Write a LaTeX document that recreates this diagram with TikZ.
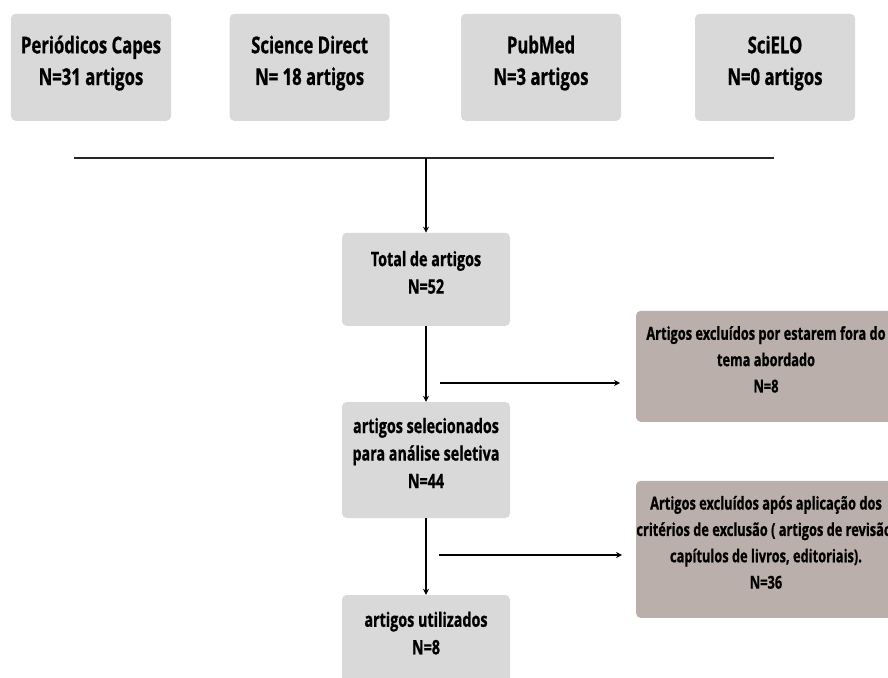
\documentclass[tikz,border=0pt]{standalone}
\usepackage{fontspec}
\newfontfamily\flowfont{Open Sans}[FakeStretch=0.72, BoldFeatures={FakeBold=0.8}]
\usetikzlibrary{positioning,arrows.meta}
\definecolor{boxgray}{RGB}{217,217,217}
\definecolor{exclbrown}{RGB}{186,175,171}

\begin{document}
\begin{tikzpicture}[
    box/.style={rectangle, rounded corners=4pt, fill=boxgray, inner xsep=0pt, align=center, text depth=12pt, font=\flowfont\bfseries\fontsize{17}{23.5}\selectfont},
    sourcebox/.style={box, minimum width=4.8cm, minimum height=3.21cm, font=\flowfont\bfseries\fontsize{19.8}{27}\selectfont},
    stagebox/.style={box, minimum width=5.04cm},
    exclbox/.style={box, fill=exclbrown, minimum width=7.8cm, font=\flowfont\bfseries\fontsize{15.2}{22.5}\selectfont},
    flow/.style={-{Stealth[length=5pt,width=5pt]}, line width=1pt}
]
\useasboundingbox (0,0) rectangle (26.64,20.31);

% Databases
\node[sourcebox] (capes) at (2.73, 18.29) {Periódicos Capes\\N=31 artigos};
\node[sourcebox] (sciencedirect) at (9.29, 18.29) {Science Direct\\N= 18 artigos};
\node[sourcebox] (pubmed) at (16.23, 18.29) {PubMed\\N=3 artigos};
\node[sourcebox] (scielo) at (23.25, 18.29) {SciELO\\N=0 artigos};

% Merge line
\draw[line width=2pt, black!85] (2.22, 15.57) -- (23.22, 15.57);
\coordinate (merge) at (12.78, 15.57);

% Screening steps
\node[stagebox, minimum height=2.79cm] (total) at (12.78, 11.93) {Total de artigos\\N=52};
\node[stagebox, minimum height=3.48cm] (selected) at (12.78, 6.51) {artigos selecionados\\para análise seletiva\\N=44};
\node[stagebox, minimum height=2.7cm] (used) at (12.78, 1.11) {artigos utilizados\\N=8};

% Exclusions
\node[exclbox, minimum height=3.33cm] (excl1) at (22.98, 9.32) {Artigos excluídos por estarem fora do\\tema abordado\\N=8};
\node[exclbox, minimum height=4.11cm] (excl2) at (22.98, 3.83) {Artigos excluídos após aplicação dos\\critérios de exclusão ( artigos de revisão,\\capítulos de livros, editoriais).\\N=36};

% Arrows
\draw[flow] (merge) -- (total);
\draw[flow] (total) -- (selected);
\draw[flow] (selected) -- (used);

\coordinate (out1a) at (13.2, 8.82);
\coordinate (out1b) at (18.6, 8.82);
\coordinate (out2a) at (13.17, 3.66);
\coordinate (out2b) at (18.66, 3.66);
\draw[flow] (out1a) -- (out1b);
\draw[flow] (out2a) -- (out2b);

\end{tikzpicture}
\end{document}
